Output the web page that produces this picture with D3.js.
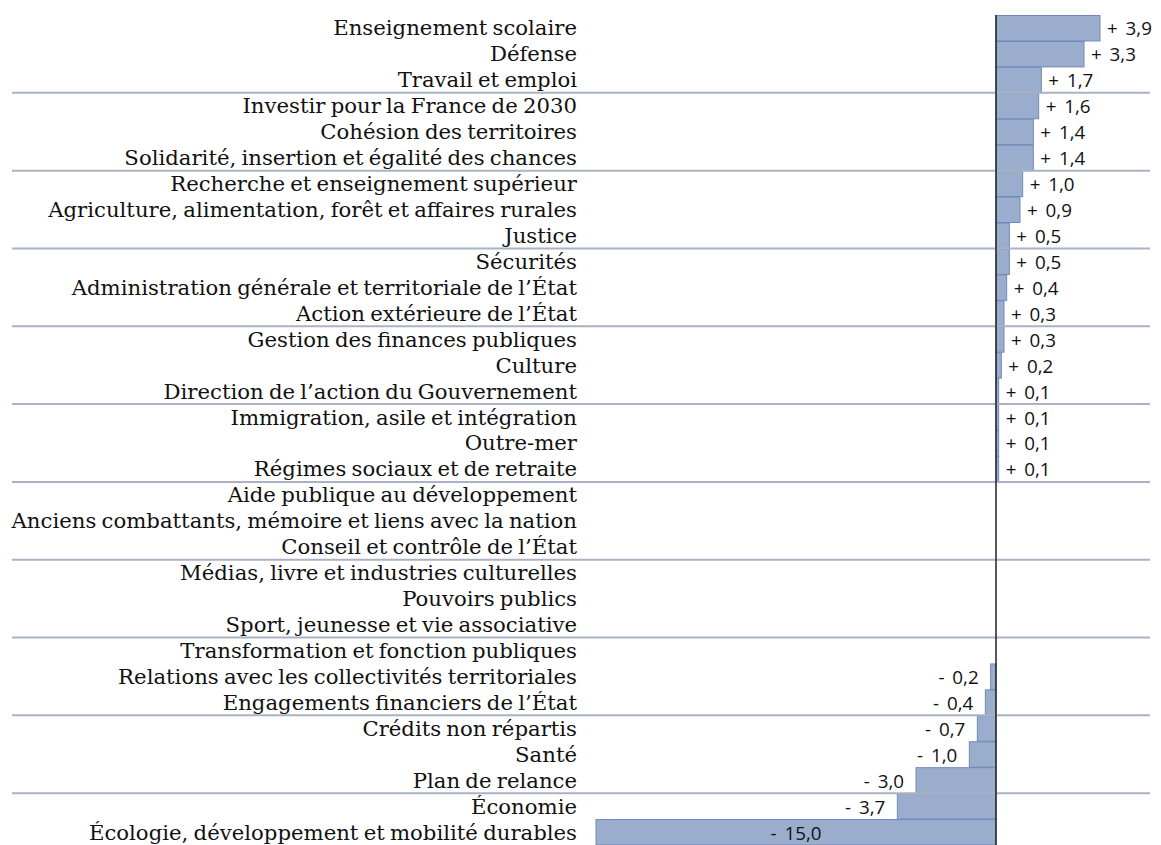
<!DOCTYPE html>
<html>
<head>
<meta charset="utf-8">
<script src="https://cdn.jsdelivr.net/npm/d3@7/dist/d3.min.js"></script>
<style>
  html, body { margin: 0; padding: 0; background: #ffffff; }
  svg { display: block; }
</style>
</head>
<body>
<svg id="chart" width="1161" height="845"></svg>
<script>
// Budget missions, change in credits (Md€)
const categories = [
  "Enseignement scolaire",
  "Défense",
  "Travail et emploi",
  "Investir pour la France de 2030",
  "Cohésion des territoires",
  "Solidarité, insertion et égalité des chances",
  "Recherche et enseignement supérieur",
  "Agriculture, alimentation, forêt et affaires rurales",
  "Justice",
  "Sécurités",
  "Administration générale et territoriale de l’État",
  "Action extérieure de l’État",
  "Gestion des finances publiques",
  "Culture",
  "Direction de l’action du Gouvernement",
  "Immigration, asile et intégration",
  "Outre-mer",
  "Régimes sociaux et de retraite",
  "Aide publique au développement",
  "Anciens combattants, mémoire et liens avec la nation",
  "Conseil et contrôle de l’État",
  "Médias, livre et industries culturelles",
  "Pouvoirs publics",
  "Sport, jeunesse et vie associative",
  "Transformation et fonction publiques",
  "Relations avec les collectivités territoriales",
  "Engagements financiers de l’État",
  "Crédits non répartis",
  "Santé",
  "Plan de relance",
  "Économie",
  "Écologie, développement et mobilité durables"
];

const values = [
  3.9, 3.3, 1.7, 1.6, 1.4, 1.4, 1.0, 0.9, 0.5,
  0.5, 0.4, 0.3, 0.3, 0.2, 0.1, 0.1, 0.1, 0.1,
  0, 0, 0, 0, 0, 0, 0,
  -0.2, -0.4, -0.7, -1.0, -3.0, -3.7, -15.0
];

const data = categories.map((c, i) => ({ name: c, value: values[i] }));

const svg = d3.select("#chart");
const FONT = "'DejaVu Serif', 'Liberation Serif', serif";
const VALUE_FONT = "'Open Sans', 'Noto Sans', sans-serif";

const x = d3.scaleLinear().domain([-15, 3.9]).range([596, 1100]);
const y = d3.scaleBand().domain(categories).range([15, 845]).paddingInner(0).paddingOuter(0);

const labelRight = 577;
const labelWidth = 565;
const valueSize = 18.8;
const wordSpacing = -1.5;
const valueWordSpacing = 3;
const baselineShift = 7.5;

const fmt = v => (v > 0 ? "+ " : "- ") + d3.format(".1f")(Math.abs(v)).replace(".", ",");

// measure a string at 20px and return the size that makes it fill `target`
function fitSize(str, target, family, ws) {
  const t = svg.append("text").style("font-family", family).style("font-size", "20px")
    .style("word-spacing", ws + "px").text(str);
  const w = t.node().getComputedTextLength();
  t.remove();
  return 20 * target / w;
}

const fontSize = Math.min(24, fitSize(categories.reduce((a, b) => a.length > b.length ? a : b), labelWidth, FONT, wordSpacing));

// bars
svg.append("g").selectAll("rect")
  .data(data.filter(d => d.value !== 0))
  .join("rect")
  .attr("x", d => Math.min(x(0), x(d.value)))
  .attr("y", d => y(d.name) + 0.5)
  .attr("width", d => Math.abs(x(d.value) - x(0)))
  .attr("height", y.bandwidth() - 0.5)
  .attr("fill", "#9badcd")
  .attr("stroke", "#6f89bb")
  .attr("stroke-width", 1);

// group separators every three missions
const seps = d3.range(3, categories.length, 3).map(i => categories[i]);
svg.append("g").selectAll("line")
  .data(seps)
  .join("line")
  .attr("x1", 12).attr("x2", 1150)
  .attr("y1", d => y(d)).attr("y2", d => y(d))
  .attr("stroke", "#a9b3c3")
  .attr("stroke-width", 2);

// zero axis
svg.append("line")
  .attr("x1", x(0)).attr("x2", x(0))
  .attr("y1", 15).attr("y2", 845)
  .attr("stroke", "#222")
  .attr("stroke-width", 1.5);

// mission names
svg.append("g").selectAll("text")
  .data(data)
  .join("text")
  .attr("x", labelRight)
  .attr("y", d => y(d.name) + y.bandwidth() / 2 + baselineShift)
  .attr("text-anchor", "end")
  .style("font-family", FONT)
  .style("font-size", fontSize + "px")
  .style("word-spacing", wordSpacing + "px")
  .attr("fill", "#111")
  .text(d => d.name);

// value labels
svg.append("g").selectAll("text")
  .data(data.filter(d => d.value !== 0))
  .join("text")
  .attr("x", d => {
    if (d.value <= -10) return (x(d.value) + x(0)) / 2;
    return d.value > 0 ? x(d.value) + 7 : x(d.value) - 12;
  })
  .attr("y", d => y(d.name) + y.bandwidth() / 2 + baselineShift)
  .attr("text-anchor", d => d.value <= -10 ? "middle" : (d.value > 0 ? "start" : "end"))
  .style("font-family", VALUE_FONT)
  .style("font-size", valueSize + "px")
  .style("word-spacing", valueWordSpacing + "px")
  .attr("fill", "#111")
  .text(d => fmt(d.value));
</script>
</body>
</html>
